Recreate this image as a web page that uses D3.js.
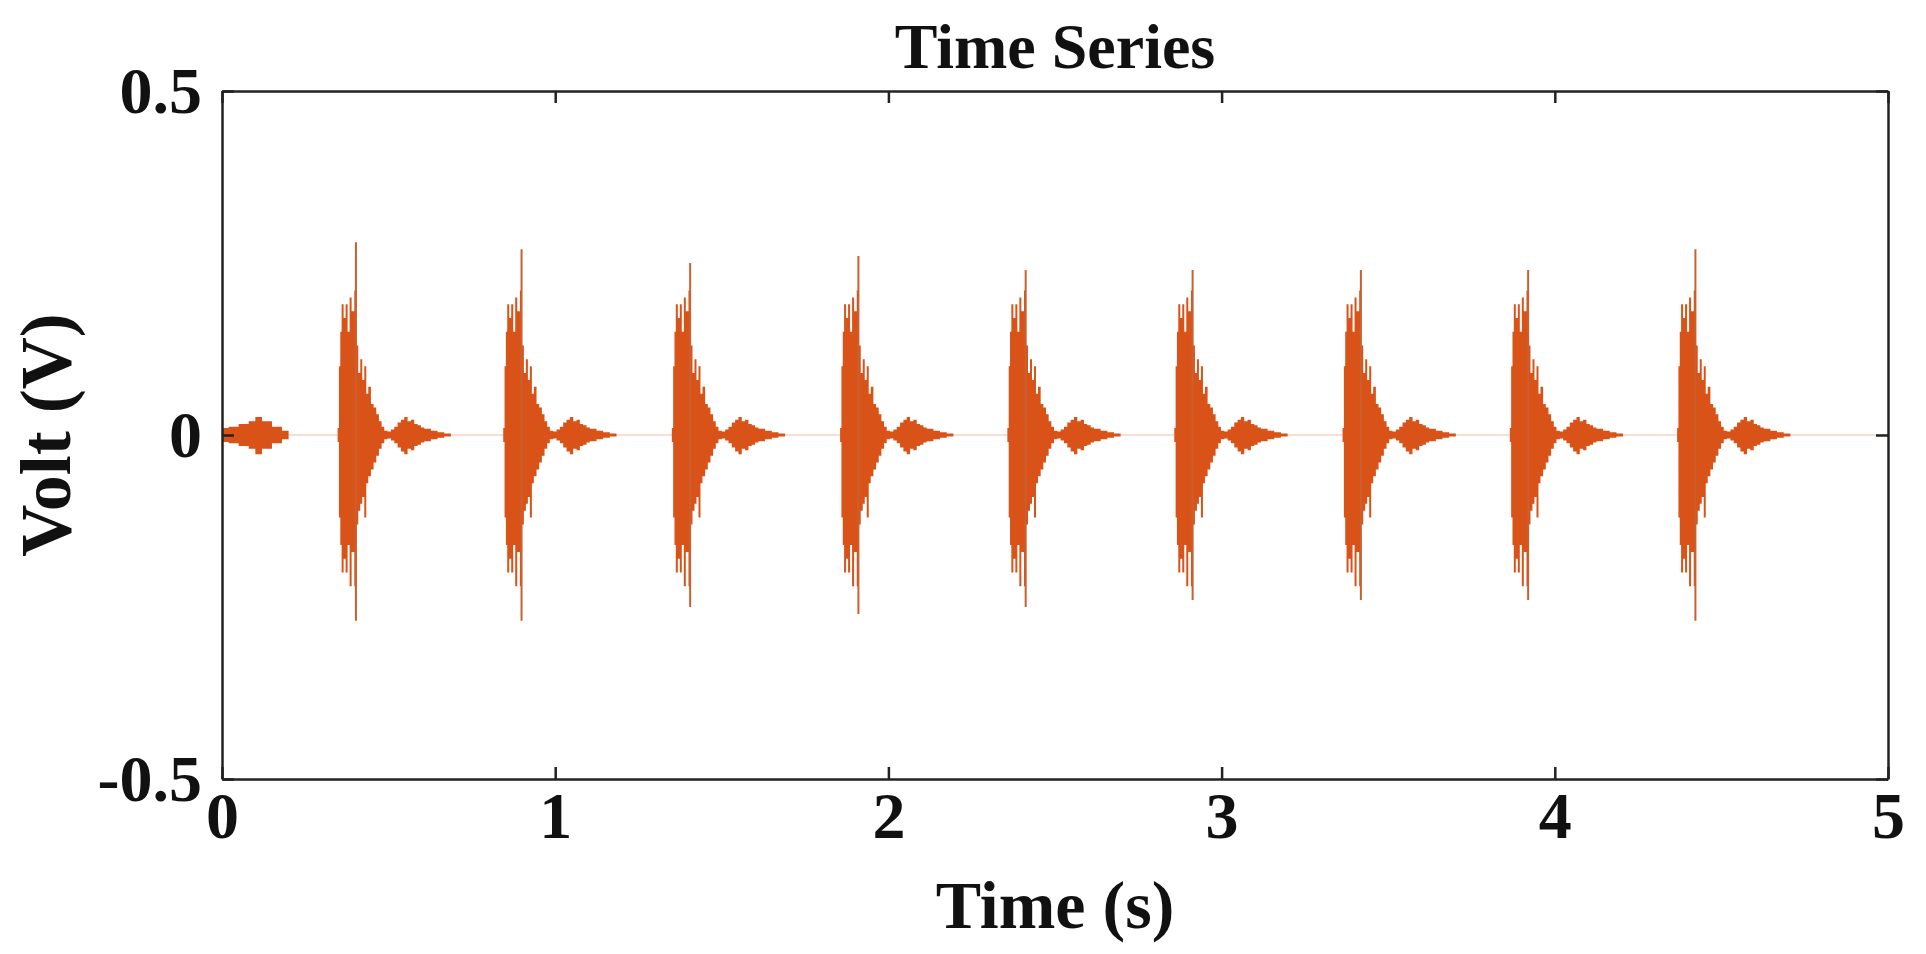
<!DOCTYPE html>
<html>
<head>
<meta charset="utf-8">
<script src="https://cdn.jsdelivr.net/npm/d3@7"></script>
<style>
  body { margin: 0; background: #fff; }
  text { font-family: "Liberation Serif", "DejaVu Serif", serif; font-weight: bold; fill: #111; }
</style>
</head>
<body>
<svg id="chart" width="1926" height="954"></svg>
<script>
// beat onsets (s)
const beatStarts = [0.347, 0.844, 1.35, 1.855, 2.357, 2.858, 3.363, 3.865, 4.367];
// main spike of each beat: [upper, lower] in V
const spikeTop = [0.28, 0.27, 0.25, 0.26, 0.24, 0.24, 0.24, 0.24, 0.27];
const spikeBottom = [-0.27, -0.27, -0.25, -0.26, -0.25, -0.24, -0.24, -0.24, -0.27];
const spikeOffset = 0.055;

// shared envelope of one beat: offset (s), upper (V), lower (V)
const envOffset = [0, 0.004, 0.008, 0.012, 0.018, 0.024, 0.03, 0.036, 0.042, 0.05, 0.056, 0.062, 0.068, 0.074, 0.08, 0.086, 0.092, 0.1, 0.108, 0.116, 0.124, 0.132, 0.14, 0.15, 0.16, 0.17, 0.18, 0.19, 0.2, 0.21, 0.22, 0.23, 0.24, 0.25, 0.26, 0.28, 0.3, 0.32, 0.34];
const envUpper  = [0.01, 0.1, 0.15, 0.19, 0.17, 0.19, 0.15, 0.2, 0.18, 0.21, 0.13, 0.09, 0.11, 0.08, 0.1, 0.06, 0.07, 0.045, 0.04, 0.03, 0.02, 0.012, 0.006, 0.005, 0.008, 0.012, 0.018, 0.022, 0.026, 0.02, 0.022, 0.016, 0.014, 0.011, 0.009, 0.006, 0.004, 0.002, 0];
const envLower  = [-0.01, -0.12, -0.16, -0.2, -0.18, -0.2, -0.16, -0.22, -0.17, -0.22, -0.13, -0.11, -0.1, -0.09, -0.12, -0.07, -0.06, -0.05, -0.04, -0.03, -0.02, -0.012, -0.006, -0.005, -0.008, -0.012, -0.018, -0.024, -0.028, -0.02, -0.022, -0.016, -0.014, -0.011, -0.009, -0.006, -0.004, -0.002, 0];

// little burst at the very start of the record
const leadOffset = [0, 0.02, 0.05, 0.08, 0.1, 0.12, 0.15, 0.18, 0.2];
const leadUpper  = [0.01, 0.012, 0.016, 0.02, 0.026, 0.02, 0.012, 0.006, 0];
const leadLower  = [-0.01, -0.012, -0.016, -0.02, -0.028, -0.02, -0.012, -0.006, 0];

const xTicks = [0, 1, 2, 3, 4, 5];
const yTicks = [-0.5, 0, 0.5];
const yTickLabels = ["-0.5", "0", "0.5"];

const margin = { left: 222, right: 38, top: 91, bottom: 175 };
const width = 1926, height = 954;
const color = "#d95319";

const svg = d3.select("#chart");
const x = d3.scaleLinear().domain([0, 5]).range([margin.left, width - margin.right]);
const y = d3.scaleLinear().domain([-0.5, 0.5]).range([height - margin.bottom, margin.top]);

// faint baseline of the signal
svg.append("line")
  .attr("x1", x(0)).attr("x2", x(5))
  .attr("y1", y(0)).attr("y2", y(0))
  .attr("stroke", "#f6d5c4").attr("stroke-width", 1.5);

const area = d3.area()
  .x((d) => x(d.t))
  .y0((d) => y(d.lo))
  .y1((d) => y(d.hi))
  .curve(d3.curveStepAfter);

const lead = leadOffset.map((t, i) => ({ t, hi: leadUpper[i], lo: leadLower[i] }));
svg.append("path").datum(lead).attr("d", area).attr("fill", color);

const beats = svg.append("g").attr("class", "beats");
beatStarts.forEach((t0, k) => {
  const env = envOffset.map((dt, i) => ({ t: t0 + dt, hi: envUpper[i], lo: envLower[i] }));
  beats.append("path").datum(env).attr("d", area).attr("fill", color);
  beats.append("line")
    .attr("x1", x(t0 + spikeOffset)).attr("x2", x(t0 + spikeOffset))
    .attr("y1", y(spikeTop[k])).attr("y2", y(spikeBottom[k]))
    .attr("stroke", "#c8602f").attr("stroke-width", 2);
});

// axes box
const xAxis = svg.append("g")
  .attr("transform", `translate(0,${y(-0.5)})`)
  .call(d3.axisBottom(x).tickValues(xTicks).tickFormat(d3.format("d")).tickSizeInner(-12).tickSizeOuter(0).tickPadding(12));
const xTop = svg.append("g")
  .attr("transform", `translate(0,${y(0.5)})`)
  .call(d3.axisTop(x).tickValues(xTicks).tickFormat("").tickSizeInner(-12).tickSizeOuter(0));
const yAxis = svg.append("g")
  .attr("transform", `translate(${x(0)},0)`)
  .call(d3.axisLeft(y).tickValues(yTicks).tickFormat((d, i) => yTickLabels[i]).tickSizeInner(-12).tickSizeOuter(0).tickPadding(20));
const yRight = svg.append("g")
  .attr("transform", `translate(${x(5)},0)`)
  .call(d3.axisRight(y).tickValues(yTicks).tickFormat("").tickSizeInner(-12).tickSizeOuter(0));

[xAxis, xTop, yAxis, yRight].forEach((g) => {
  g.selectAll("path, line").attr("stroke", "#222").attr("stroke-width", 2.5);
  g.selectAll("text").style("font-size", "66px").attr("fill", "#111")
    .style("font-family", "Liberation Serif").style("font-weight", "bold");
});

svg.append("text")
  .attr("x", (x(0) + x(5)) / 2).attr("y", 68)
  .attr("text-anchor", "middle").style("font-size", "64px")
  .text("Time Series");

svg.append("text")
  .attr("x", (x(0) + x(5)) / 2).attr("y", 928)
  .attr("text-anchor", "middle").style("font-size", "68px")
  .text("Time (s)");

svg.append("text")
  .attr("transform", `translate(70,${y(0)}) rotate(-90)`)
  .attr("text-anchor", "middle").style("font-size", "72px")
  .text("Volt (V)");
</script>
</body>
</html>
